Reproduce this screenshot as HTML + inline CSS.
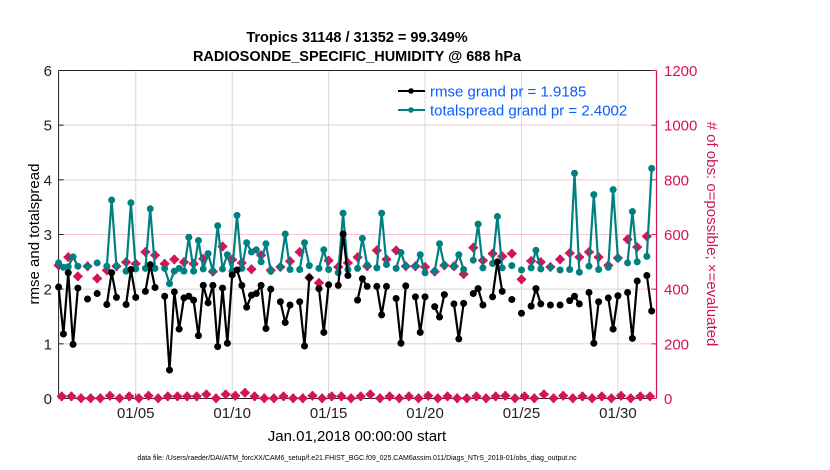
<!DOCTYPE html>
<html><head><meta charset="utf-8"><style>
body{margin:0;background:#fff;}
svg{display:block;font-family:"Liberation Sans",sans-serif;}
</style></head><body>
<svg id="chart" width="830" height="470" viewBox="0 0 830 470">
<text x="357" y="42" text-anchor="middle" font-size="14.5" font-weight="bold">Tropics 31148 / 31352 = 99.349%</text>
<text x="357" y="61" text-anchor="middle" font-size="14.5" font-weight="bold">RADIOSONDE_SPECIFIC_HUMIDITY @ 688 hPa</text>
<g id="grid"></g>
<g id="axes"></g>
<g id="marks"></g>
<g>
<g>
<line x1="398" y1="91" x2="425" y2="91" stroke="#000" stroke-width="2"/><circle cx="411" cy="91" r="2.8" fill="#000"/>
<text x="430" y="96.5" font-size="15" fill="#0a5cff">rmse grand pr = 1.9185</text></g>
<g>
<line x1="398" y1="110" x2="425" y2="110" stroke="#008080" stroke-width="2"/><circle cx="411" cy="110" r="2.8" fill="#008080"/>
<text x="430" y="115.5" font-size="15" fill="#0a5cff">totalspread grand pr = 2.4002</text></g>
</g>
<text transform="translate(39,234) rotate(-90)" text-anchor="middle" font-size="15">rmse and totalspread</text>
<text transform="translate(707,234) rotate(90)" text-anchor="middle" font-size="15" fill="#d4145a"># of obs: o=possible; ×=evaluated</text>
<text x="357" y="441" text-anchor="middle" font-size="15">Jan.01,2018 00:00:00 start</text>
<text x="357" y="460" text-anchor="middle" font-size="7">data file: /Users/raeder/DAI/ATM_forcXX/CAM6_setup/f.e21.FHIST_BGC.f09_025.CAM6assim.011/Diags_NTrS_2018-01/obs_diag_output.nc</text>
</svg>
<script>
const rmse=[2.04,1.18,2.30,0.99,2.02,null,1.82,null,1.92,null,1.72,2.30,1.85,null,1.72,2.36,1.85,null,1.96,2.45,2.03,null,1.87,0.52,1.95,1.27,1.84,1.87,1.80,1.15,2.07,1.75,2.07,0.95,2.02,1.01,2.26,2.35,2.07,1.67,1.89,1.92,2.07,1.28,2.00,null,1.77,1.39,1.71,null,1.77,0.96,2.21,null,2.01,1.21,2.08,null,2.07,3.01,2.25,null,1.80,2.19,2.05,null,2.05,1.53,2.05,null,1.83,1.01,2.06,null,1.86,1.21,1.86,null,1.68,1.49,1.90,null,1.73,1.09,1.74,null,1.92,2.01,1.71,null,1.86,2.50,1.96,null,1.81,null,1.56,null,1.69,2.01,1.73,null,1.71,null,1.71,null,1.79,1.87,1.73,null,1.94,1.01,1.77,null,1.84,1.27,1.88,null,1.94,1.10,2.15,null,2.25,1.60];
const spread=[2.48,2.40,2.41,2.59,2.42,null,2.42,null,2.48,null,2.42,3.63,2.42,null,2.33,3.58,2.37,null,2.38,3.47,2.38,null,2.38,2.10,2.33,2.38,2.33,2.95,2.33,2.89,2.37,2.65,2.33,3.16,2.37,2.63,2.33,3.35,2.38,2.85,2.68,2.72,2.50,2.83,2.33,null,2.41,3.01,2.36,null,2.36,2.85,2.43,null,2.38,2.72,2.36,null,2.30,3.39,2.36,null,2.38,2.93,2.44,null,2.39,3.39,2.45,null,2.38,2.67,2.42,null,2.42,2.63,2.30,null,2.33,2.83,2.44,null,2.41,2.63,2.36,null,2.53,3.19,2.39,null,2.47,3.33,2.39,null,2.43,null,2.35,null,2.39,2.71,2.37,null,2.40,null,2.35,null,2.36,4.12,2.31,null,2.42,3.73,2.36,null,2.40,3.82,2.56,null,2.48,3.42,2.50,null,2.60,4.21];
const evaluated=[487,517,447,484,439,469,484,499,493,536,524,493,509,499,493,511,464,556,508,496,473,524,469,481,502,536,442,423,505,481,496,517,484,542,509,542,484,484,481,464,487,484,455,552,505,530,520,530,436,503,499,481,509,532,517,536,517,487,514,582,554,593];
const possible=[8,8,1,1,1,10,1,8,1,10,1,8,8,8,8,15,1,15,10,21,8,1,1,8,1,1,10,1,8,8,1,8,15,1,8,1,8,1,10,1,8,1,1,8,1,8,10,1,8,1,15,1,10,1,8,1,8,1,10,1,8,8];
const yTicks=[0,1,2,3,4,5,6];
const rTicks=[0,200,400,600,800,1000,1200];
const xTickDays=[4,9,14,19,24,29];
const xTickLabels=["01/05","01/10","01/15","01/20","01/25","01/30"];

const X0=58.6,X1=656.5,Y0=398.5,Y1=70.5,DAYS=31;
const xDay=d=>X0+(X1-X0)*d/DAYS;
const xSlot=k=>xDay(k/4);
const yL=v=>Y0-(Y0-Y1)*v/6;
const yR=v=>Y0-(Y0-Y1)*v/1200;
const NS="http://www.w3.org/2000/svg";
function mk(tag,attrs,parent){const e=document.createElementNS(NS,tag);for(const k in attrs)e.setAttribute(k,attrs[k]);parent.appendChild(e);return e;}
const grid=document.getElementById('grid'),axes=document.getElementById('axes'),marks=document.getElementById('marks');

rTicks.forEach((t,i)=>{if(t>0&&t<1200){const l=mk('line',{x1:X0,x2:X1,y1:yR(t),y2:yR(t),stroke:'#f4c4d6','stroke-width':1},grid);

}});
xTickDays.forEach((d,i)=>{const l=mk('line',{x1:xDay(d),x2:xDay(d),y1:Y1,y2:Y0,stroke:'#d8d8d8','stroke-width':1},grid);


const t=mk('text',{x:xDay(d),y:418,'text-anchor':'middle','font-size':15,fill:'#222'},axes);t.textContent=xTickLabels[i];


mk('line',{x1:xDay(d),x2:xDay(d),y1:Y0,y2:Y0-5,stroke:'#222'},axes);});
mk('line',{x1:X0,x2:X0,y1:Y1,y2:Y0,stroke:'#222','stroke-width':1},axes);
mk('line',{x1:X0,x2:X1,y1:Y1,y2:Y1,stroke:'#222','stroke-width':1},axes);
mk('line',{x1:X0,x2:X1,y1:Y0,y2:Y0,stroke:'#222','stroke-width':1},axes);
mk('line',{x1:X1,x2:X1,y1:Y1,y2:Y0,stroke:'#d4145a','stroke-width':1.2},axes);
yTicks.forEach(t=>{mk('line',{x1:X0,x2:X0+5,y1:yL(t),y2:yL(t),stroke:'#222'},axes);
const e=mk('text',{x:52,y:yL(t)+5.5,'text-anchor':'end','font-size':15,fill:'#222'},axes);e.textContent=t;

});
rTicks.forEach(t=>{mk('line',{x1:X1-5,x2:X1,y1:yR(t),y2:yR(t),stroke:'#d4145a'},axes);
const e=mk('text',{x:664,y:yR(t)+5.5,'font-size':15,fill:'#d4145a'},axes);e.textContent=t;

});

function diamond(cx,cy,parent,name){const s=5;const p=mk('polygon',{points:`${cx},${cy-s} ${cx+s},${cy} ${cx},${cy+s} ${cx-s},${cy}`,fill:'#d4145a'},parent);


mk('path',{d:`M${cx-4.5} ${cy}H${cx+4.5}M${cx} ${cy-4.5}V${cy+4.5}`,stroke:'#d4145a','stroke-width':2.2},parent);}
evaluated.forEach((v,i)=>diamond(xSlot(i*2),yR(v),marks,'evaluated-marker'));
possible.forEach((v,i)=>diamond(xSlot(i*2+0.65),yR(v),marks,'possible-marker'));

function series(arr,color,name){let segs=[],cur=[];arr.forEach((v,i)=>{if(v==null){if(cur.length)segs.push(cur);cur=[];}else cur.push([xSlot(i),yL(v)]);});if(cur.length)segs.push(cur);
const g=mk('g',{},marks);


segs.forEach(s=>{if(s.length>1)mk('polyline',{points:s.map(p=>p.join(',')).join(' '),fill:'none',stroke:color,'stroke-width':2.2,'stroke-linejoin':'round'},g);});
arr.forEach((v,i)=>{if(v!=null){const c=mk('circle',{cx:xSlot(i),cy:yL(v),r:3.5,fill:color},g);

}});}
series(spread,'#008080','totalspread-series');
series(rmse,'#000000','rmse-series');
</script>
</body></html>
